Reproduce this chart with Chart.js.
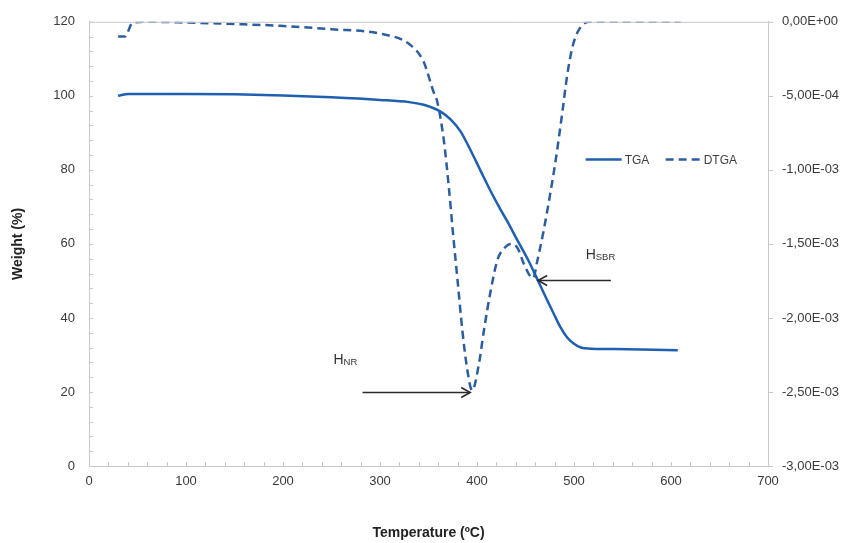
<!DOCTYPE html>
<html>
<head>
<meta charset="utf-8">
<script src="https://cdn.jsdelivr.net/npm/chart.js@4/dist/chart.umd.min.js"></script>
<style>
html,body{margin:0;padding:0;background:#fff;}
#wrap{width:846px;height:543px;}
</style>
</head>
<body>
<div id="wrap"><canvas id="c" width="846" height="543"></canvas></div>
<script>
// ---- data ----
const tgaTemp = [30, 35, 40, 60, 100, 150, 200, 250, 300, 330, 345, 352, 362, 373, 383, 393, 404, 414, 424, 431, 442, 453, 463, 472, 479, 486, 493, 500, 507, 517, 540, 570, 607];
const tgaWeight = [100, 100.3, 100.5, 100.5, 100.5, 100.4, 100.1, 99.6, 98.9, 98.3, 97.6, 97.0, 95.8, 93.6, 90.4, 85.5, 79.6, 74.3, 69.4, 66.2, 60.8, 55.5, 50, 45, 41.2, 37.5, 34.7, 33.0, 32.0, 31.7, 31.6, 31.5, 31.3];

const dtgaTemp = [30, 37, 45, 60, 100, 150, 197, 250, 300, 331, 345, 355, 359, 366, 371, 375, 380, 385, 390, 395, 402, 407, 414, 421, 428, 435, 442, 448, 455, 458, 462, 469, 475, 481, 488, 493, 499, 507, 517, 560, 610];
const dtgaValue = [-0.00010, -0.00010, -0.000005, 0, -0.000005, -0.000015, -0.000027, -0.00005, -0.00008, -0.000155, -0.00027, -0.00047, -0.00054, -0.00081, -0.00112, -0.00141, -0.00175, -0.00209, -0.00235, -0.00249, -0.00231, -0.00209, -0.00182, -0.00161, -0.00153, -0.00150, -0.00153, -0.00163, -0.00172, -0.00173, -0.00162, -0.00140, -0.00118, -0.00094, -0.00061, -0.00036, -0.000155, -0.000034, 0, 0, 0];

const rightTickLabels = ['0,00E+00', '-5,00E-04', '-1,00E-03', '-1,50E-03', '-2,00E-03', '-2,50E-03', '-3,00E-03'];
const seriesNames = ['TGA', 'DTGA'];

const tgaPoints = tgaTemp.map((t, i) => ({x: t, y: tgaWeight[i]}));
const dtgaPoints = dtgaTemp.map((t, i) => ({x: t, y: dtgaValue[i]}));

const FONT = '"Liberation Sans", Arial, sans-serif';
const TGA_COLOR = '#1f5fb2';
const DTGA_COLOR = '#2c5d9e';
const AXIS_COLOR = '#c8c8c8';
const TICK_COLOR = '#3a3a3a';

const decor = {
  id: 'decor',
  afterDraw(chart) {
    const ctx = chart.ctx;
    const a = chart.chartArea;
    const xs = chart.scales.x, ys = chart.scales.y, y1 = chart.scales.y1;
    ctx.save();
    // top border
    ctx.strokeStyle = AXIS_COLOR;
    ctx.lineWidth = 1;
    ctx.beginPath();
    ctx.moveTo(a.left, a.top + 0.5); ctx.lineTo(a.right, a.top + 0.5);
    ctx.stroke();
    // left ticks (inside)
    ctx.beginPath();
    for (let v = 0; v <= 120; v += 4) {
      const p = Math.round(ys.getPixelForValue(v)) + 0.5;
      ctx.moveTo(a.left, p); ctx.lineTo(a.left + 4, p);
    }
    // bottom ticks (inside)
    for (let v = 0; v <= 700; v += 20) {
      const p = Math.round(xs.getPixelForValue(v)) + 0.5;
      ctx.moveTo(p, a.bottom); ctx.lineTo(p, a.bottom - 4);
    }
    // right ticks (outside)
    for (let i = 0; i <= 6; i++) {
      const p = Math.round(y1.getPixelForValue(-0.0005 * i)) + 0.5;
      ctx.moveTo(a.right, p); ctx.lineTo(a.right + 5, p);
    }
    ctx.stroke();

    // legend
    const lx = xs.getPixelForValue(512), ly = ys.getPixelForValue(82.8);
    ctx.lineWidth = 2.5;
    ctx.strokeStyle = TGA_COLOR;
    ctx.beginPath(); ctx.moveTo(lx, ly); ctx.lineTo(lx + 36, ly); ctx.stroke();
    ctx.strokeStyle = DTGA_COLOR;
    ctx.setLineDash([8, 5]);
    ctx.beginPath(); ctx.moveTo(lx + 80, ly); ctx.lineTo(lx + 116, ly); ctx.stroke();
    ctx.setLineDash([]);
    ctx.fillStyle = '#404040';
    ctx.font = '12px ' + FONT;
    ctx.textBaseline = 'middle';
    ctx.textAlign = 'left';
    ctx.fillText(seriesNames[0], lx + 39, ly + 1);
    ctx.fillText(seriesNames[1], lx + 118, ly + 1);

    // arrows
    function arrow(x0, x1, yv) {
      const px0 = xs.getPixelForValue(x0), px1 = xs.getPixelForValue(x1);
      const py = Math.round(ys.getPixelForValue(yv)) + 0.5;
      const dir = px1 > px0 ? 1 : -1;
      ctx.strokeStyle = '#2b2b2b';
      ctx.lineWidth = 1.6;
      ctx.beginPath(); ctx.moveTo(px0, py); ctx.lineTo(px1, py); ctx.stroke();
      ctx.beginPath();
      ctx.moveTo(px1 - dir * 9, py - 5); ctx.lineTo(px1, py); ctx.lineTo(px1 - dir * 9, py + 5);
      ctx.stroke();
    }
    arrow(282, 393, 20);
    arrow(538, 463, 50.3);

    function label(xv, yv, main, sub) {
      const px = xs.getPixelForValue(xv), py = ys.getPixelForValue(yv);
      ctx.fillStyle = '#333';
      ctx.textBaseline = 'alphabetic';
      ctx.textAlign = 'left';
      ctx.font = '14px ' + FONT;
      ctx.fillText(main, px, py + 5);
      const w = ctx.measureText(main).width;
      ctx.font = '9.5px ' + FONT;
      ctx.fillText(sub, px + w, py + 6);
    }
    label(252, 28.8, 'H', 'NR');
    label(512, 57.3, 'H', 'SBR');
    ctx.restore();
  }
};

new Chart(document.getElementById('c'), {
  type: 'line',
  data: {
    datasets: [
      {
        label: seriesNames[0], data: tgaPoints, yAxisID: 'y',
        borderColor: TGA_COLOR, borderWidth: 2.5, pointRadius: 0,
        cubicInterpolationMode: 'monotone', fill: false
      },
      {
        label: seriesNames[1], data: dtgaPoints, yAxisID: 'y1',
        borderColor: DTGA_COLOR, borderWidth: 2.5, borderDash: [8, 5], pointRadius: 0,
        cubicInterpolationMode: 'monotone', fill: false
      }
    ]
  },
  options: {
    responsive: false,
    animation: false,
    layout: {padding: {top: 18, left: 0, right: 0, bottom: 0}},
    plugins: {legend: {display: false}, tooltip: {enabled: false}},
    scales: {
      x: {
        type: 'linear', min: 0, max: 700,
        afterFit(s) { s.height = 77; },
        grid: {display: false, drawTicks: false},
        border: {display: true, color: AXIS_COLOR, width: 1},
        ticks: {stepSize: 100, padding: 8, color: TICK_COLOR, font: {family: FONT, size: 13}, maxRotation: 0},
        title: {display: true, text: 'Temperature (ºC)', color: '#222', font: {family: FONT, size: 14, weight: 'bold'}, padding: {top: 0, bottom: 1}}
      },
      y: {
        type: 'linear', position: 'left', min: 0, max: 120,
        afterFit(s) { s.width = 89; },
        grid: {display: false, drawTicks: false},
        border: {display: true, color: AXIS_COLOR, width: 1},
        ticks: {stepSize: 20, padding: 14, color: TICK_COLOR, font: {family: FONT, size: 13}},
        title: {display: true, text: 'Weight (%)', color: '#222', font: {family: FONT, size: 14, weight: 'bold'}, padding: {top: 10, bottom: 0}}
      },
      y1: {
        type: 'linear', position: 'right', min: -0.003, max: 0,
        afterFit(s) { s.width = 78; },
        grid: {display: false, drawTicks: false},
        border: {display: true, color: AXIS_COLOR, width: 1},
        ticks: {
          stepSize: 0.0005, padding: 14, color: TICK_COLOR, font: {family: FONT, size: 13},
          callback(v) { const i = Math.round(-v / 0.0005); return rightTickLabels[i]; }
        }
      }
    }
  },
  plugins: [decor]
});
</script>
</body>
</html>
